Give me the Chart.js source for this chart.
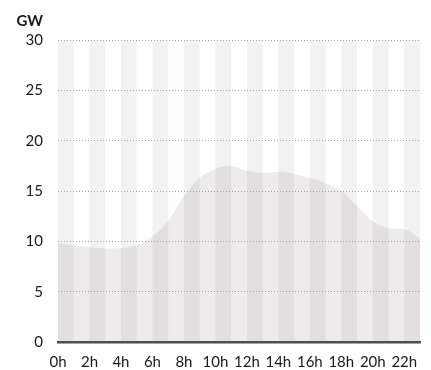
<!DOCTYPE html>
<html>
<head>
<meta charset="utf-8">
<script src="https://cdn.jsdelivr.net/npm/chart.js@4"></script>
<style>
    html, body { margin: 0; padding: 0; background: #ffffff; }
    #wrap { width: 431px; height: 370px; }
</style>
</head>
<body>
<div id="wrap"><canvas id="graficoCarga"></canvas></div>
<script>
// horas del día y demanda en GW
const horas = ['0h', '1h', '2h', '3h', '4h', '5h', '6h', '7h', '8h', '9h', '10h', '11h',
               '12h', '13h', '14h', '15h', '16h', '17h', '18h', '19h', '20h', '21h', '22h', '23h'];
const demanda = [9.8, 9.6, 9.4, 9.3, 9.35, 9.6, 10.5, 12.0, 14.5, 16.3, 17.2, 17.5,
                 17.0, 16.8, 16.9, 16.7, 16.3, 15.8, 15.0, 13.5, 12.0, 11.3, 11.2, 10.3];
const ticksY = [0, 5, 10, 15, 20, 25, 30];
const unidad = 'GW';

const fuente = 'Lato, "Open Sans", sans-serif';

// franjas alternas de una hora detrás del área
const franjas = {
    id: 'franjas',
    beforeDraw(chart) {
        const { ctx, chartArea, scales } = chart;
        ctx.save();
        ctx.fillStyle = '#f2f2f1';
        for (let i = 0; i < horas.length - 1; i += 2) {
            const x0 = scales.x.getPixelForValue(i);
            const x1 = scales.x.getPixelForValue(i + 1);
            ctx.fillRect(x0, chartArea.top, x1 - x0, chartArea.bottom - chartArea.top);
        }
        ctx.restore();
    },
    afterDraw(chart) {
        // unidad encima del eje y
        const { ctx } = chart;
        ctx.save();
        ctx.font = 'bold 15px ' + fuente;
        ctx.fillStyle = '#1a1a1a';
        ctx.textAlign = 'right';
        ctx.textBaseline = 'middle';
        ctx.fillText(unidad, 43, 21);
        ctx.restore();
    }
};

const ctx = document.getElementById('graficoCarga').getContext('2d');
new Chart(ctx, {
    type: 'line',
    data: {
        labels: horas,
        datasets: [{
            data: demanda,
            fill: 'origin',
            backgroundColor: 'rgba(120, 90, 90, 0.12)',
            borderWidth: 0,
            pointRadius: 0,
            cubicInterpolationMode: 'monotone'
        }]
    },
    options: {
        responsive: true,
        maintainAspectRatio: false,
        animation: false,
        layout: { padding: { top: 40, right: 11, left: 0, bottom: 0 } },
        plugins: {
            legend: { display: false },
            tooltip: { enabled: false }
        },
        scales: {
            x: {
                offset: false,
                grid: { display: false, drawTicks: false },
                border: { color: '#4d4d4d', width: 2.5 },
                ticks: {
                    autoSkip: false,
                    maxRotation: 0,
                    padding: 11,
                    color: '#1a1a1a',
                    font: { family: fuente, size: 15 },
                    callback: (v, i) => (i % 2 === 0 ? horas[i] : '')
                },
                afterFit(scale) { scale.height = 28; }
            },
            y: {
                min: 0,
                max: 30,
                afterBuildTicks(scale) { scale.ticks = ticksY.map(v => ({ value: v })); },
                border: { display: false, dash: [1, 2] },
                grid: {
                    drawTicks: false,
                    color: (c) => (c.tick.value === 0 ? 'rgba(0,0,0,0)' : '#a6a6a6'),
                    lineWidth: 1
                },
                ticks: {
                    padding: 15,
                    color: '#1a1a1a',
                    font: { family: fuente, size: 15 }
                },
                afterFit(scale) { scale.width = 58; }
            }
        }
    },
    plugins: [franjas]
});
</script>
</body>
</html>
